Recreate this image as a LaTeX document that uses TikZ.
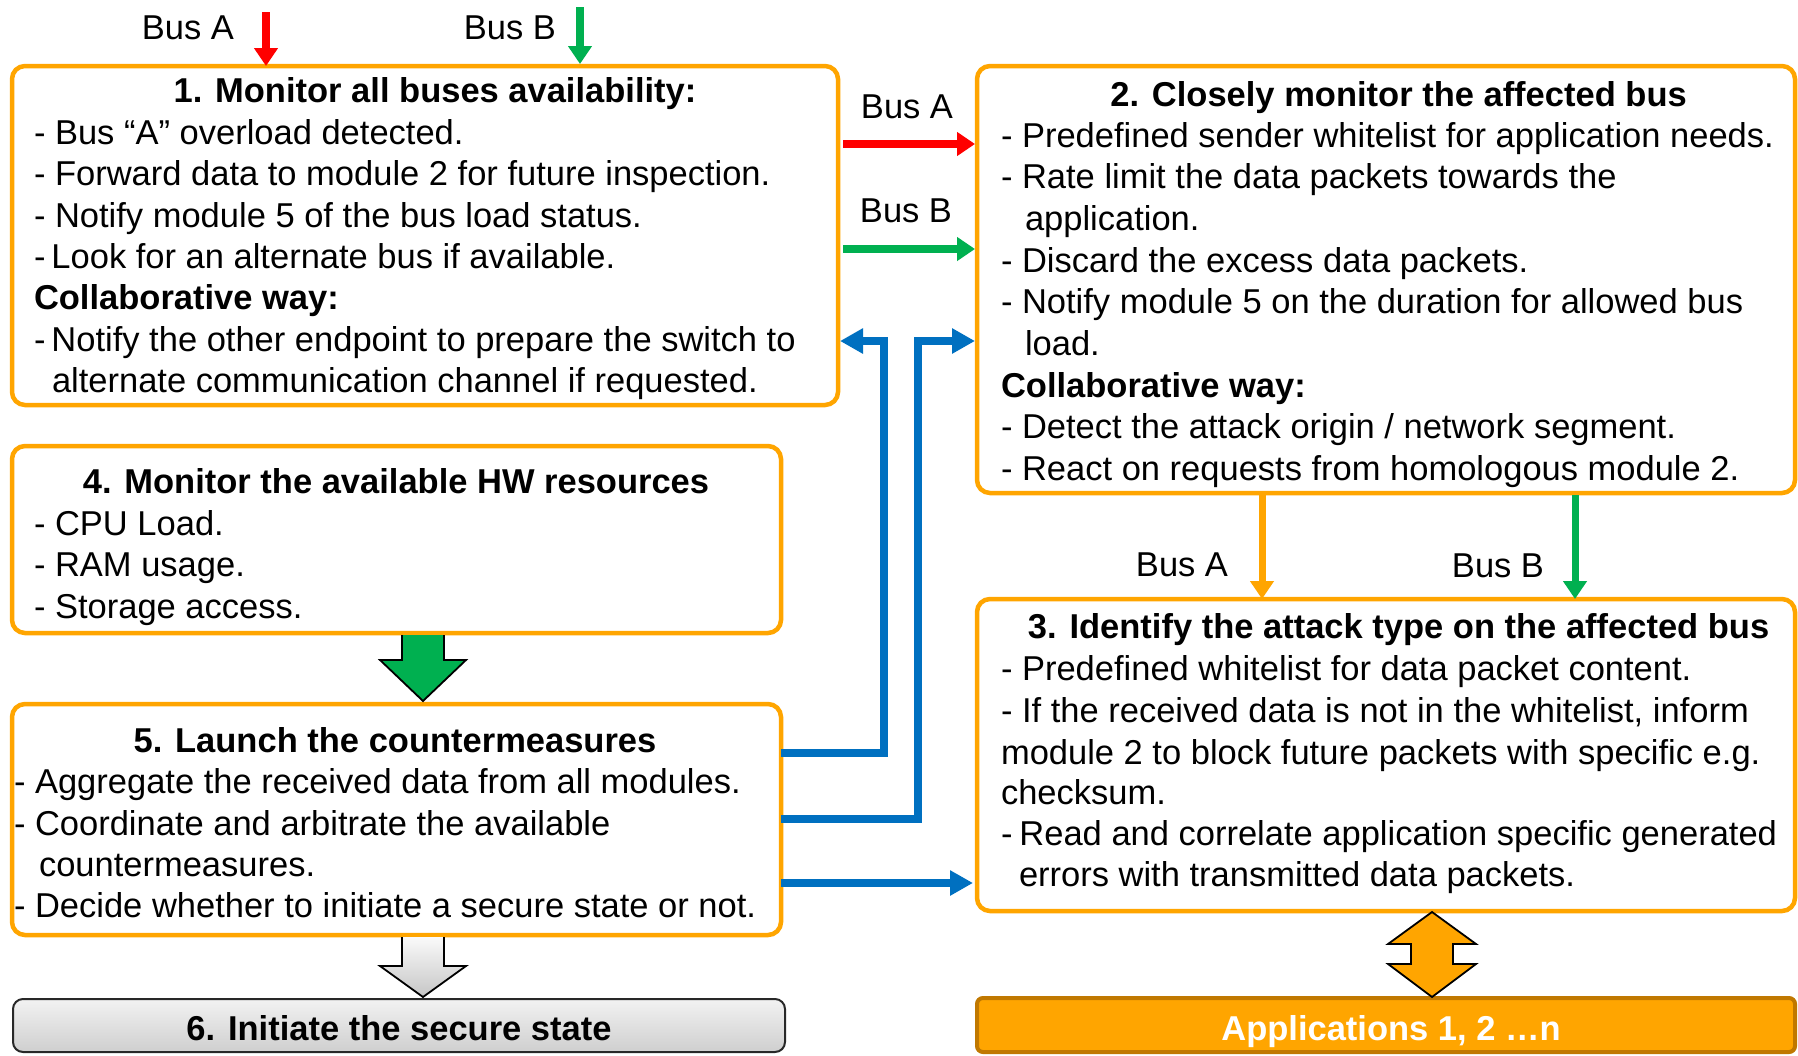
\documentclass[tikz,border=0pt]{standalone}
\usepackage{fontspec}
\setmainfont{Liberation Sans}
\usetikzlibrary{arrows.meta,calc}
\definecolor{boxorange}{RGB}{255,165,0}
\definecolor{busred}{RGB}{255,0,0}
\definecolor{busgreen}{RGB}{0,176,80}
\definecolor{linkblue}{RGB}{0,112,192}
\definecolor{appedge}{RGB}{192,120,0}
\definecolor{stateedge}{RGB}{40,40,40}

\begin{document}
\begin{tikzpicture}[x=1pt,y=-1pt,
  every node/.style={font=\fontsize{34.5}{41.4}\selectfont, inner sep=0pt, outer sep=0pt},
  panel/.style={draw=boxorange, line width=4.5pt, rounded corners=13pt, fill=white},
  txt/.style={anchor=base west},
  ttl/.style={anchor=base, font=\fontsize{34.5}{41.4}\selectfont\bfseries},
  lbl/.style={anchor=base},
  busline/.style={line width=7.5pt, -{Triangle[length=18pt,width=23pt]}},
  link/.style={draw=linkblue, line width=8pt, -{Triangle[length=23pt,width=24pt]}},
  blockedge/.style={draw=black, line width=1.8pt, line join=miter}
]
\useasboundingbox (0,0) rectangle (1798,1055);

% ---------- module panels ----------
\node[panel, minimum width=826pt, minimum height=339pt] (m1) at (425,235.5) {};
\node[panel, minimum width=818pt, minimum height=427pt] (m2) at (1386,279.5) {};
\node[panel, minimum width=818pt, minimum height=312pt] (m3) at (1386,755) {};
\node[panel, minimum width=769pt, minimum height=187pt] (m4) at (396.5,539.5) {};
\node[panel, minimum width=769pt, minimum height=231pt] (m5) at (396.5,819.5) {};
\node[draw=stateedge, line width=2pt, rounded corners=10pt,
      top color=gray!10, bottom color=gray!38,
      minimum width=772pt, minimum height=53pt] (m6) at (399,1025.5) {};
\node[draw=appedge, fill=boxorange, line width=4pt, rounded corners=6pt,
      minimum width=818pt, minimum height=54pt] (apps) at (1386,1025) {};

% ---------- module 1 ----------
\node[ttl] (t1) at (435,102) {1. Monitor all buses availability:};
\node[txt] (l11) at (34,144) {- Bus “A” overload detected.};
\node[txt] (l12) at (34,185) {- Forward data to module 2 for future inspection.};
\node[txt] (l13) at (34,227) {- Notify module 5 of the bus load status.};
\node[txt] (l14) at (34,268) {-\hspace{6pt}Look for an alternate bus if available.};
\node[txt] (l15) at (34,309) {\bfseries Collaborative way:};
\node[txt] (l16) at (34,351) {-\hspace{6pt}Notify the other endpoint to prepare the switch to};
\node[txt] (l17) at (52,392) {alternate communication channel if requested.};

% ---------- module 2 ----------
\node[ttl] (t2) at (1398.6,106) {2. Closely monitor the affected bus};
\node[txt] (l21) at (1001,147) {- Predefined sender whitelist for application needs.};
\node[txt] (l22) at (1001,188) {- Rate limit the data packets towards the};
\node[txt] (l23) at (1025,230) {application.};
\node[txt] (l24) at (1001,272) {- Discard the excess data packets.};
\node[txt] (l25) at (1001,313) {- Notify module 5 on the duration for allowed bus};
\node[txt] (l26) at (1025,355) {load.};
\node[txt] (l27) at (1001,397) {\bfseries Collaborative way:};
\node[txt] (l28) at (1001,438) {- Detect the attack origin / network segment.};
\node[txt] (l29) at (1001,480) {- React on requests from homologous module 2.};

% ---------- module 3 ----------
\node[ttl] (t3) at (1398.6,638) {3. Identify the attack type on the affected bus};
\node[txt] (l31) at (1001,680) {- Predefined whitelist for data packet content.};
\node[txt] (l32) at (1001,722) {- If the received data is not in the whitelist, inform};
\node[txt] (l33) at (1001,764) {module 2 to block future packets with specific e.g.};
\node[txt] (l34) at (1001,804) {checksum.};
\node[txt] (l35) at (1001,845) {-\hspace{7pt}Read and correlate application specific generated};
\node[txt] (l36) at (1019,886) {errors with transmitted data packets.};

% ---------- module 4 ----------
\node[ttl] (t4) at (396,493) {4. Monitor the available HW resources};
\node[txt] (l41) at (34,535) {- CPU Load.};
\node[txt] (l42) at (34,576) {- RAM usage.};
\node[txt] (l43) at (34,618) {- Storage access.};

% ---------- module 5 ----------
\node[ttl] (t5) at (395,752) {5. Launch the countermeasures};
\node[txt] (l51) at (14,793) {- Aggregate the received data from all modules.};
\node[txt] (l52) at (14,835) {- Coordinate and arbitrate the available};
\node[txt] (l53) at (39,876) {countermeasures.};
\node[txt] (l54) at (14,917) {- Decide whether to initiate a secure state or not.};

% ---------- module 6 and applications ----------
\node[ttl] (t6) at (399,1040) {6. Initiate the secure state};
\node[ttl, text=white] (tapp) at (1391,1040) {Applications 1, 2 …n};

% ---------- bus labels ----------
\node[lbl] (busA1) at (188,39) {Bus A};
\node[lbl] (busB1) at (510,39) {Bus B};
\node[lbl] (busA2) at (907,118) {Bus A};
\node[lbl] (busB2) at (906,222) {Bus B};
\node[lbl] (busA3) at (1182,576) {Bus A};
\node[lbl] (busB3) at (1498,577) {Bus B};

% ---------- incoming buses ----------
\coordinate (inA) at (266,12);
\coordinate (inB) at (580,7);
\draw[busline, draw=busred] (inA) -- (inA |- m1.north);
\draw[busline, draw=busgreen] (inB) -- ($(inB |- m1.north)+(0,-2)$);

% ---------- module 1 -> module 2 ----------
\coordinate (hA) at (0,144);
\coordinate (hB) at (0,249);
\draw[busline, draw=busred] ($(m1.east |- hA)+(5,0)$) -- ($(m2.west |- hA)+(-2,0)$);
\draw[busline, draw=busgreen] ($(m1.east |- hB)+(5,0)$) -- ($(m2.west |- hB)+(-2,0)$);

% ---------- module 2 -> module 3 ----------
\coordinate (vA) at (1262,0);
\coordinate (vB) at (1575,0);
\draw[busline, draw=boxorange, line width=7pt] ($(m2.south -| vA)+(0,2)$) -- (m3.north -| vA);
\draw[busline, draw=busgreen, line width=7pt] ($(m2.south -| vB)+(0,2)$) -- (m3.north -| vB);

% ---------- module 5 feedback links ----------
\coordinate (r1a) at (884,753);
\coordinate (r1b) at (884,341);
\coordinate (r2a) at (918,819);
\coordinate (r2b) at (918,341);
\coordinate (r3) at (880,883);
\draw[link, line join=miter] (m5.east |- r1a) -- (r1a) -- (r1b) -- ($(m1.east |- r1b)+(2,0)$);
\draw[link, line join=miter] (m5.east |- r2a) -- (r2a) -- (r2b) -- ($(m2.west |- r2b)+(-2,0)$);
\draw[link] (m5.east |- r3) -- ($(m3.west |- r3)+(-4,0)$);

% ---------- block arrows ----------
\coordinate (gx) at (423,0);
\coordinate (ox) at (1432,0);
\coordinate (g0) at ($(m4.south -| gx)+(0,2)$);
\coordinate (g1) at ($(m5.north -| gx)+(0,-3)$);
\draw[blockedge, fill=busgreen]
  ($(g0)+(-21,0)$) -- ($(g0)+(-21,25)$) -- ($(g0)+(-43,25)$) -- (g1)
  -- ($(g0)+(43,25)$) -- ($(g0)+(21,25)$) -- ($(g0)+(21,0)$);

\coordinate (s0) at ($(m5.south -| gx)+(0,2)$);
\coordinate (s1) at ($(m6.north -| gx)+(0,-2)$);
\draw[blockedge, top color=gray!4, bottom color=gray!45]
  ($(s0)+(-21,0)$) -- ($(s0)+(-21,29)$) -- ($(s0)+(-43,29)$) -- (s1)
  -- ($(s0)+(43,29)$) -- ($(s0)+(21,29)$) -- ($(s0)+(21,0)$);

\coordinate (d0) at ($(m3.south -| ox)+(0,1)$);
\coordinate (d1) at ($(apps.north -| ox)+(0,-1)$);
\draw[blockedge, fill=boxorange]
  (d0) -- ($(d0)+(44,32)$) -- ($(d0)+(21,32)$) -- ($(d1)+(21,-33)$)
  -- ($(d1)+(44,-33)$) -- (d1) -- ($(d1)+(-44,-33)$) -- ($(d1)+(-21,-33)$)
  -- ($(d0)+(-21,32)$) -- ($(d0)+(-44,32)$) -- cycle;
\end{tikzpicture}
\end{document}
